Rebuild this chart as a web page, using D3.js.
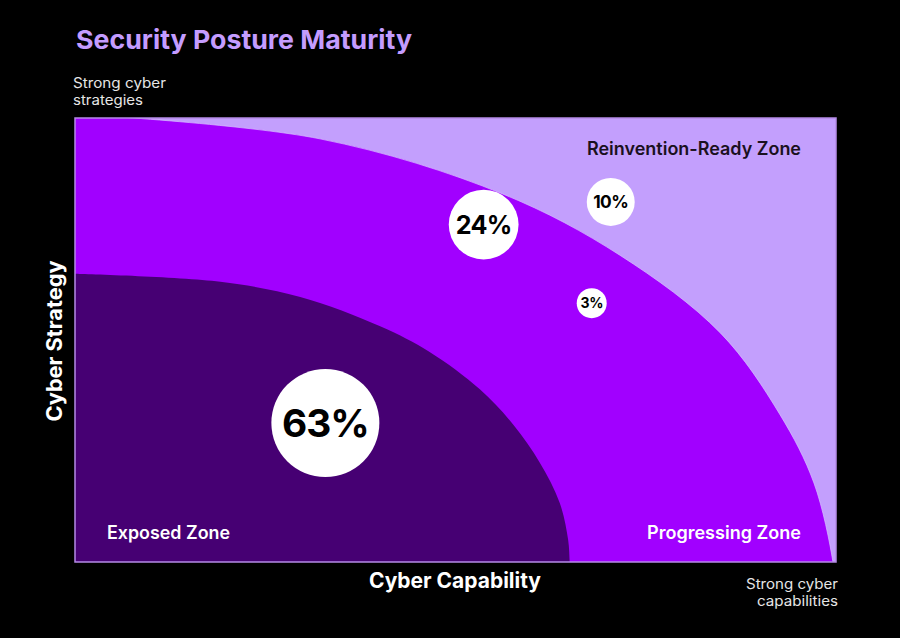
<!DOCTYPE html>
<html>
<head>
<meta charset="utf-8">
<script src="https://cdn.jsdelivr.net/npm/d3@7"></script>
<style>
  html, body { margin: 0; padding: 0; background: #000; }
  svg { display: block; }
  text { font-family: Inter, "Noto Sans", sans-serif; }
</style>
</head>
<body>
<svg id="chart" width="900" height="638"></svg>
<script>
// ---------- data ----------
const title = "Security Posture Maturity";
const xAxisTitle = "Cyber Capability";
const yAxisTitle = "Cyber Strategy";
const yEndLabel = ["Strong cyber", "strategies"];
const xEndLabel = ["Strong cyber", "capabilities"];

// zone boundaries in [capability, strategy] units (0-100)
const progressingBoundary = [
  [0, 100.9], [32.2, 95.3], [56.2, 82.9], [71.6, 69.1],
  [84.8, 51.6], [92.6, 33.3], [97.1, 17.8], [99.6, 0], [99.9, -6]
];
const exposedBoundary = [
  [0, 64.9], [19.1, 63.1], [29.6, 59.7], [40.1, 53.1], [46.6, 47.3],
  [53.2, 38.9], [57.6, 30.9], [61.1, 22.3], [63.7, 13.3], [64.8, 5.0], [65.0, 0], [65.1, -5]
];

const zoneNames = ["Exposed Zone", "Progressing Zone", "Reinvention-Ready Zone"];

const bubbleValues = [63, 24, 10, 3];
const bubbleCapability = [32.9, 53.7, 70.4, 67.9];
const bubbleStrategy = [31.3, 76.0, 81.1, 58.3];

// ---------- layout ----------
const svg = d3.select("#chart");
const plot = { left: 75, right: 836, top: 118, bottom: 562 };
const x = d3.scaleLinear().domain([0, 100]).range([plot.left, plot.right]);
const y = d3.scaleLinear().domain([0, 100]).range([plot.bottom, plot.top]);
const r = d3.scaleSqrt().domain([3, 63]).range([15, 54]);

const colors = {
  light: "#c39ffd",
  bright: "#a100ff",
  dark: "#460073",
  border: "#b58be6",
  title: "#c49cff"
};

svg.append("rect").attr("width", 900).attr("height", 638).attr("fill", "#000");

svg.append("defs").append("clipPath").attr("id", "plotClip")
  .append("rect")
  .attr("x", x(0)).attr("y", y(100))
  .attr("width", x(100) - x(0)).attr("height", y(0) - y(100));

const g = svg.append("g").attr("clip-path", "url(#plotClip)");

g.append("rect")
  .attr("x", x(0)).attr("y", y(100))
  .attr("width", x(100) - x(0)).attr("height", y(0) - y(100))
  .attr("fill", colors.light);

const curve = d3.curveCatmullRom.alpha(0.5);
const area = d3.area()
  .x(d => x(d[0]))
  .y0(y(-10))
  .y1(d => y(d[1]))
  .curve(curve);

const edge = d3.line()
  .x(d => x(d[0]))
  .y(d => y(d[1]))
  .curve(curve);

g.append("path").datum(progressingBoundary)
  .attr("d", area).attr("fill", colors.bright);
g.append("path").datum(progressingBoundary)
  .attr("d", edge).attr("fill", "none")
  .attr("stroke", "#d7bfff").attr("stroke-width", 1).attr("stroke-opacity", 0.7);

g.append("path").datum(exposedBoundary)
  .attr("d", area).attr("fill", colors.dark);

svg.append("rect")
  .attr("x", x(0)).attr("y", y(100))
  .attr("width", x(100) - x(0)).attr("height", y(0) - y(100))
  .attr("fill", "none").attr("stroke", colors.border).attr("stroke-width", 1.5);

// zone labels
svg.append("text").text(zoneNames[0])
  .attr("x", 107).attr("y", 539)
  .attr("textLength", 123).attr("lengthAdjust", "spacingAndGlyphs")
  .attr("fill", "#fff").attr("font-size", 18).attr("font-weight", 600);
svg.append("text").text(zoneNames[1])
  .attr("x", 801).attr("y", 539).attr("text-anchor", "end")
  .attr("textLength", 154).attr("lengthAdjust", "spacingAndGlyphs")
  .attr("fill", "#fff").attr("font-size", 18).attr("font-weight", 600);
svg.append("text").text(zoneNames[2])
  .attr("x", 801).attr("y", 155).attr("text-anchor", "end")
  .attr("textLength", 214).attr("lengthAdjust", "spacingAndGlyphs")
  .attr("fill", "#1a1020").attr("font-size", 18).attr("font-weight", 600);

// bubbles
const bubbles = bubbleValues.map((v, i) => ({ v, cx: bubbleCapability[i], cy: bubbleStrategy[i] }));
const bg = svg.append("g").selectAll("g").data(bubbles).join("g")
  .attr("transform", d => `translate(${x(d.cx)},${y(d.cy)})`);
bg.append("circle").attr("r", d => r(d.v)).attr("fill", "#fff");
bg.append("text")
  .text(d => d.v + "%")
  .attr("text-anchor", "middle")
  .attr("dy", "0.36em")
  .attr("font-size", d => Math.max(14, r(d.v) * 0.72))
  .attr("font-weight", 700)
  .attr("letter-spacing", d => -r(d.v) * 0.02)
  .attr("fill", "#000");

// title
svg.append("text").text(title)
  .attr("x", 76).attr("y", 49)
  .attr("textLength", 336).attr("lengthAdjust", "spacingAndGlyphs")
  .attr("fill", colors.title).attr("font-size", 26).attr("font-weight", 700);

// end labels
const endLabelWidthsY = [93, 70];
yEndLabel.forEach((t, i) => {
  svg.append("text").text(t)
    .attr("x", 73).attr("y", 88 + i * 17)
    .attr("textLength", endLabelWidthsY[i]).attr("lengthAdjust", "spacingAndGlyphs")
    .attr("fill", "#e6e6e6").attr("font-size", 14);
});
const endLabelWidthsX = [92, 81];
xEndLabel.forEach((t, i) => {
  svg.append("text").text(t)
    .attr("x", 838).attr("y", 589 + i * 17).attr("text-anchor", "end")
    .attr("textLength", endLabelWidthsX[i]).attr("lengthAdjust", "spacingAndGlyphs")
    .attr("fill", "#e6e6e6").attr("font-size", 14);
});

// axis titles
svg.append("text").text(xAxisTitle)
  .attr("x", (x(0) + x(100)) / 2 - 0.5).attr("y", 588)
  .attr("text-anchor", "middle")
  .attr("textLength", 172).attr("lengthAdjust", "spacingAndGlyphs")
  .attr("fill", "#fff").attr("font-size", 21).attr("font-weight", 700);

svg.append("text").text(yAxisTitle)
  .attr("transform", `translate(62,${341}) rotate(-90)`)
  .attr("text-anchor", "middle")
  .attr("textLength", 161).attr("lengthAdjust", "spacingAndGlyphs")
  .attr("fill", "#fff").attr("font-size", 21).attr("font-weight", 700);
</script>
</body>
</html>
